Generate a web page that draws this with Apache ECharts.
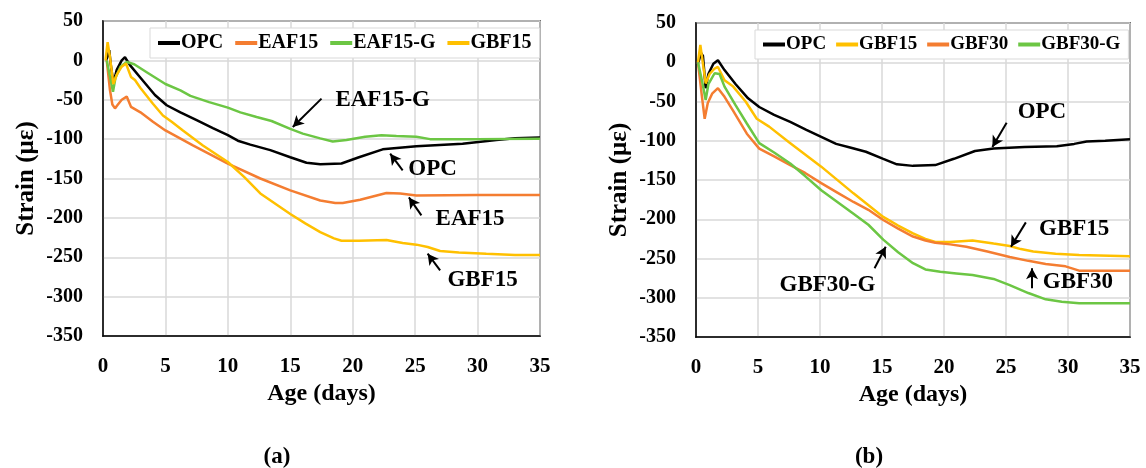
<!DOCTYPE html>
<html>
<head>
<meta charset="utf-8">
<script src="https://cdn.jsdelivr.net/npm/echarts@6/dist/echarts.min.js"></script>
<style>
  html, body { margin: 0; padding: 0; background: #fff; }
  #main { width: 1146px; height: 468px; }
</style>
</head>
<body>
<div id="main"></div>
<script>
// 数据: [age (days), strain (με)]
const opcA = [[0.25,0],[0.5,13],[0.62,-5],[0.83,-29],[1.1,-12],[1.5,0],[1.76,4],[2.16,-6],[3,-22],[4.16,-44],[5.1,-57],[6.2,-66],[7.5,-76],[8.8,-86],[10,-95],[10.8,-102],[11.8,-107],[13.4,-114],[15,-123],[16.3,-130],[17.4,-132],[19.1,-131],[20.5,-123],[22.4,-113],[25.1,-109],[28.8,-106],[31.5,-101],[33,-99],[35,-98]]
const eafA = [[0.3,0],[0.56,-38],[0.75,-56],[0.96,-61],[1.15,-57],[1.5,-50],[1.9,-46],[2.24,-59],[3,-66],[4,-78],[5,-89],[7.2,-108],[10,-131],[12.6,-150],[15,-165],[17.4,-178],[18.6,-181],[19.2,-181],[20.6,-177],[22.7,-168.5],[23.8,-169],[25.1,-171.5],[30,-171],[35,-171]]
const eafgA = [[0.3,0],[0.55,-20],[0.8,-40],[1.0,-22],[1.4,-8],[1.9,-2],[2.5,-5],[3.5,-15],[5,-30],[6.2,-38],[7,-45],[8.5,-53],[10,-60],[11,-66],[12.3,-72],[13.5,-77],[15,-87],[16,-93],[17.4,-99],[18.4,-103],[19.5,-101],[21,-97],[22.3,-95],[23.5,-96],[25.1,-97],[26.2,-100],[30,-100],[35,-99.5]]
const gbf15A = [[0.2,0],[0.37,23],[0.55,5],[0.83,-30],[1.1,-18],[1.5,-8],[1.84,-4],[2.24,-21],[2.56,-25],[3,-35],[4,-55],[4.8,-70],[5.5,-78],[6.4,-89],[8,-108],[10,-129],[11.3,-148],[12.6,-169],[13.8,-182],[15,-195],[16.2,-207],[17.4,-218],[18.5,-226],[19.1,-229],[20.5,-229],[22.7,-228],[24,-232],[25.1,-234],[26,-237],[27,-242],[28.5,-244],[30.7,-245.5],[33,-247],[35,-247]]

const opcB = [[0.2,0],[0.4,12],[0.56,8],[0.78,-33],[1.0,-15],[1.4,-2],[1.77,2.5],[2.3,-10],[3.2,-28],[4.2,-46],[5.1,-57],[6.3,-67],[7.6,-76],[8.9,-86],[10.1,-95],[11.3,-104],[12.5,-109],[13.7,-114],[15.1,-123],[16.2,-130],[17.5,-132],[19.3,-131],[20.8,-123],[22.5,-113],[24,-110],[26.5,-108],[29.1,-107],[30.5,-104],[31.5,-101],[33,-100],[35,-98]]
const gbf15B = [[0.16,0],[0.35,22],[0.5,5],[0.78,-27],[1.1,-15],[1.5,-8],[1.77,-6],[2.3,-23],[3,-31],[4,-50],[4.9,-72],[5.9,-82],[7.5,-102],[10.1,-133],[12.7,-167],[15.1,-197],[16.3,-208],[17.5,-218],[18.5,-225],[19.3,-229],[20.5,-229],[22.3,-227],[24,-231],[25.3,-234],[26.2,-238],[27.2,-241],[29,-244],[30.9,-245.6],[35,-247]]
const gbf30B = [[0.16,0],[0.45,-40],[0.7,-72],[0.95,-52],[1.3,-40],[1.77,-33],[2.3,-44],[3,-62],[4.1,-91],[5.1,-110],[6.3,-120],[7.6,-131],[8.8,-141],[10.1,-154],[11.4,-166],[12.7,-178],[13.9,-188],[15.1,-201],[16.3,-212],[17.5,-222],[18.5,-227],[19.3,-230],[20.5,-232],[21.8,-235],[23.5,-241],[25.3,-248],[26.8,-253],[28.2,-257],[29.8,-260],[30.9,-265.5],[35,-265.5]]
const gbf30gB = [[0.16,0],[0.5,-25],[0.78,-48],[1.0,-28],[1.5,-14],[1.9,-15],[2.3,-31],[3.2,-55],[4.1,-78],[5.1,-103],[6.3,-115],[7.6,-129],[8.8,-145],[10.1,-163],[11.4,-178],[12.7,-193],[13.9,-207],[15.1,-226],[16.3,-242],[17.5,-256],[18.5,-264],[19.7,-267],[21,-269],[22.3,-271],[24,-276],[25.3,-284],[26.8,-294],[28.2,-302],[29.5,-305],[30.9,-307],[35,-307]]

// 注释: 文字位置 + 箭头 (数据坐标)
const notesA = [
  { text: 'EAF15-G', at: [22.4, -51], from: [17.5, -48.6], to: [15.2, -84.7] },
  { text: 'OPC', at: [26.4, -137.5], from: [24.0, -139.7], to: [23.0, -118.5] },
  { text: 'EAF15', at: [29.4, -201], from: [25.5, -196.8], to: [24.5, -174] },
  { text: 'GBF15', at: [30.4, -279], from: [27.0, -266.7], to: [26.0, -245.5] }
]
const notesB = [
  { text: 'OPC', at: [27.9, -63], from: [25.05, -77], to: [23.9, -108] },
  { text: 'GBF15', at: [30.5, -212], from: [26.6, -204], to: [25.4, -235] },
  { text: 'GBF30', at: [30.8, -279.5], from: [27.1, -288], to: [27.1, -262.5] },
  { text: 'GBF30-G', at: [10.6, -283.7], from: [14.4, -262.5], to: [15.3, -235] }
]

const xTicks = [0, 5, 10, 15, 20, 25, 30, 35]
const yTicks = [-350, -300, -250, -200, -150, -100, -50, 0, 50]

const COLORS = { OPC: '#000000', EAF15: '#f47d31', 'EAF15-G': '#6cc644', GBF15: '#ffc000', GBF30: '#f47d31', 'GBF30-G': '#6cc644' }
const FONT = 'Liberation Serif'

const myChart = echarts.init(document.getElementById('main'))

const xAxisOf = (gridIndex) => ({
  type: 'value', gridIndex, min: xTicks[0], max: xTicks[xTicks.length - 1], interval: 5,
  name: 'Age (days)', nameLocation: 'middle', nameGap: 42,
  nameTextStyle: { fontFamily: FONT, fontWeight: 'bold', fontSize: 24, color: '#000' },
  axisLine: { show: true, onZero: false, lineStyle: { color: '#000', width: 1.5 } },
  axisTick: { show: false },
  axisLabel: { margin: 20, fontFamily: FONT, fontWeight: 'bold', fontSize: 21, color: '#000' },
  splitLine: { show: true, lineStyle: { color: '#d9d9d9', width: 1.5 } }
})
const yAxisOf = (gridIndex) => ({
  type: 'value', gridIndex, min: yTicks[0], max: yTicks[yTicks.length - 1], interval: 50,
  name: 'Strain (με)', nameLocation: 'middle', nameGap: 64, nameRotate: 90,
  nameTextStyle: { fontFamily: FONT, fontWeight: 'bold', fontSize: 25, color: '#000' },
  axisLine: { show: true, onZero: false, lineStyle: { color: '#000', width: 1.5 } },
  axisTick: { show: false },
  axisLabel: { margin: 20, fontFamily: FONT, fontWeight: 'bold', fontSize: 20, color: '#000' },
  splitLine: { show: true, lineStyle: { color: '#d9d9d9', width: 1.5 } }
})

const lineSeries = (name, data, idx) => ({
  name, type: 'line', data, xAxisIndex: idx, yAxisIndex: idx,
  showSymbol: false, symbol: 'none', smooth: false,
  lineStyle: { color: COLORS[name], width: 2.5 },
  itemStyle: { color: COLORS[name] }
})

// 注释用一个空的系列承载 markLine / markPoint
const noteSeries = (notes, idx) => ({
  type: 'line', data: [], xAxisIndex: idx, yAxisIndex: idx, silent: true,
  markLine: {
    silent: true, symbol: ['none', 'arrow'], symbolSize: [9, 11],
    label: { show: false },
    lineStyle: { color: '#000', width: 2, type: 'solid' },
    data: notes.map(n => [{ coord: n.from }, { coord: n.to }])
  },
  markPoint: {
    silent: true, symbol: 'circle', symbolSize: 0,
    label: { show: true, position: 'inside', formatter: p => p.name, fontFamily: FONT, fontWeight: 'bold', fontSize: 23, color: '#000' },
    data: notes.map(n => ({ name: n.text, coord: n.at }))
  }
})

const legendOf = (left, top, names, fontSize, itemGap) => ({
  left, top, data: names, itemWidth: 22, itemHeight: 4, icon: 'rect', itemGap,
  backgroundColor: '#fff', borderColor: '#d9d9d9', borderWidth: 1, padding: [5, 8],
  textStyle: { fontFamily: FONT, fontWeight: 'bold', fontSize, color: '#000', padding: [0, 0, 0, -4] }
})

const captionStyle = { rich: {
  p: { fontFamily: FONT, fontSize: 23, color: '#000' },
  b: { fontFamily: FONT, fontSize: 23, fontWeight: 'bold', color: '#000' }
} }

myChart.setOption({
  animation: false,
  backgroundColor: '#fff',
  title: [
    { text: '{p|(}{b|a}{p|)}', left: 272, top: 441, textAlign: 'center', textStyle: captionStyle },
    { text: '{p|(}{b|b}{p|)}', left: 864, top: 441, textAlign: 'center', textStyle: captionStyle }
  ],
  legend: [
    legendOf(150, 28, ['OPC', 'EAF15', 'EAF15-G', 'GBF15'], 20, 12),
    legendOf(755, 30, ['OPC', 'GBF15', 'GBF30', 'GBF30-G'], 19, 10)
  ],
  grid: [
    { left: 103, top: 21, width: 437, height: 315, show: true, borderColor: '#000', borderWidth: 1.5, backgroundColor: 'transparent' },
    { left: 696, top: 23, width: 434, height: 314, show: true, borderColor: '#000', borderWidth: 1.5, backgroundColor: 'transparent' }
  ],
  xAxis: [xAxisOf(0), xAxisOf(1)],
  yAxis: [yAxisOf(0), yAxisOf(1)],
  series: [
    lineSeries('OPC', opcA, 0),
    lineSeries('EAF15', eafA, 0),
    lineSeries('EAF15-G', eafgA, 0),
    lineSeries('GBF15', gbf15A, 0),
    noteSeries(notesA, 0),
    lineSeries('OPC', opcB, 1),
    lineSeries('GBF15', gbf15B, 1),
    lineSeries('GBF30', gbf30B, 1),
    lineSeries('GBF30-G', gbf30gB, 1),
    noteSeries(notesB, 1)
  ]
})
</script>
</body>
</html>
